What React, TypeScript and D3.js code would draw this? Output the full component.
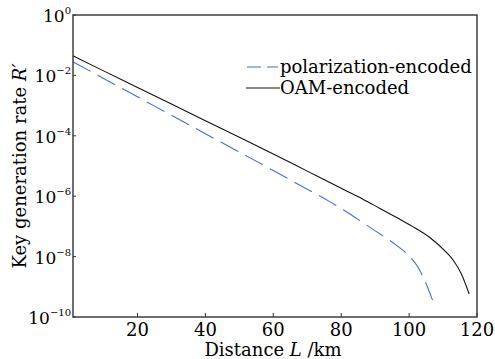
import React, { useEffect, useRef } from "react";
import * as d3 from "d3";

// distance (km) and log10 of key generation rate
const oamDistance = [1, 10, 20, 30, 40, 50, 60, 70, 80, 86.4, 91, 96.2, 101, 106, 110.9, 113, 115.3, 117.7];
const oamLogRate = [-1.35, -1.85, -2.4, -2.95, -3.5, -4.05, -4.6, -5.17, -5.74, -6.1, -6.38, -6.7, -7.0, -7.36, -7.85, -8.12, -8.55, -9.24];

const polDistance = [1, 10, 20, 30, 40, 50, 60, 70, 76.6, 82, 86.4, 91, 96.2, 100, 102.5, 104.5, 106.9];
const polLogRate = [-1.55, -2.1, -2.71, -3.32, -3.93, -4.54, -5.15, -5.77, -6.18, -6.55, -6.88, -7.22, -7.62, -7.98, -8.33, -8.77, -9.44];

const xTicks = [20, 40, 60, 80, 100, 120];
const yTickExponents = [0, -2, -4, -6, -8, -10];

const legendLabels = ["polarization-encoded", "OAM-encoded"];

const W = 495;
const H = 359;
const FONT = "DejaVu Serif";

const App = () => {
  const svgRef = useRef<SVGSVGElement>(null);

  useEffect(() => {
    const svg = d3.select(svgRef.current);
    svg.selectAll("*").remove();

    const margin = { top: 15, right: 18, bottom: 42, left: 73 };
    const x = d3.scaleLinear().domain([1, 120]).range([margin.left, W - margin.right]);
    const y = d3.scaleLog().domain([1e-10, 1]).range([H - margin.bottom, margin.top]);

    const oam = oamDistance.map((d, i) => [d, Math.pow(10, oamLogRate[i])] as [number, number]);
    const pol = polDistance.map((d, i) => [d, Math.pow(10, polLogRate[i])] as [number, number]);

    const line = d3
      .line<[number, number]>()
      .x((d) => x(d[0]))
      .y((d) => y(d[1]))
      .curve(d3.curveMonotoneX);

    // curves
    svg
      .append("path")
      .attr("d", line(pol))
      .attr("fill", "none")
      .attr("stroke", "#4a6ccc")
      .attr("stroke-width", 1.1)
      .attr("stroke-dasharray", "20 8");

    svg
      .append("path")
      .attr("d", line(oam))
      .attr("fill", "none")
      .attr("stroke", "#111")
      .attr("stroke-width", 1.1);

    // frame
    const [x0, x1] = x.range();
    const [y0, y1] = y.range();
    svg
      .append("rect")
      .attr("x", x0)
      .attr("y", y1)
      .attr("width", x1 - x0)
      .attr("height", y0 - y1)
      .attr("fill", "none")
      .attr("stroke", "#333")
      .attr("stroke-width", 1.4);

    // x ticks
    const xg = svg.append("g");
    xTicks.forEach((t) => {
      xg.append("line")
        .attr("x1", x(t))
        .attr("x2", x(t))
        .attr("y1", y0)
        .attr("y2", y0 - 4)
        .attr("stroke", "#333");
      xg.append("text")
        .attr("x", x(t))
        .attr("y", y0 + 19)
        .attr("text-anchor", "middle")
        .attr("font-family", FONT)
        .attr("font-size", 18)
        .text(t);
    });

    // y ticks
    const yg = svg.append("g");
    yTickExponents.forEach((e) => {
      const v = Math.pow(10, e);
      yg.append("line")
        .attr("x1", x0)
        .attr("x2", x0 + 3)
        .attr("y1", y(v))
        .attr("y2", y(v))
        .attr("stroke", "#333");
      const txt = yg
        .append("text")
        .attr("x", x0 - 2)
        .attr("y", y(v) + 7)
        .attr("text-anchor", "end")
        .attr("font-family", FONT)
        .attr("font-size", 17);
      txt.append("tspan").text("10");
      txt
        .append("tspan")
        .attr("dy", -8)
        .attr("font-size", 10)
        .text(e === 0 ? "0" : "\u2212" + Math.abs(e));
    });

    // axis titles
    const xt = svg
      .append("text")
      .attr("x", (x0 + x1) / 2 - 2)
      .attr("y", H - 3)
      .attr("text-anchor", "middle")
      .attr("font-family", FONT)
      .attr("font-size", 18);
    xt.append("tspan").text("Distance ");
    xt.append("tspan").attr("font-style", "italic").text("L");
    xt.append("tspan").text(" /km");

    const yt = svg
      .append("text")
      .attr("transform", `translate(26,${(y0 + y1) / 2}) rotate(-90)`)
      .attr("text-anchor", "middle")
      .attr("font-family", FONT)
      .attr("font-size", 18);
    yt.append("tspan").text("Key generation rate ");
    yt.append("tspan").attr("font-style", "italic").text("R\u2032");

    // legend
    const lg = svg.append("g");
    const legendY = [67, 88];
    lg.append("line")
      .attr("x1", 247)
      .attr("x2", 278)
      .attr("y1", legendY[0])
      .attr("y2", legendY[0])
      .attr("stroke", "#4a6ccc")
      .attr("stroke-width", 1.1)
      .attr("stroke-dasharray", "14 6");
    lg.append("line")
      .attr("x1", 246)
      .attr("x2", 280)
      .attr("y1", legendY[1])
      .attr("y2", legendY[1])
      .attr("stroke", "#111")
      .attr("stroke-width", 1.1);
    legendLabels.forEach((l, i) => {
      lg.append("text")
        .attr("x", 280)
        .attr("y", legendY[i] + 6)
        .attr("font-family", FONT)
        .attr("font-size", 18)
        .text(l);
    });
  }, []);

  return (
    <svg
      ref={svgRef}
      width={W}
      height={H}
      style={{ position: "absolute", left: 0, top: 0, background: "#fff" }}
    />
  );
};

export default App;
